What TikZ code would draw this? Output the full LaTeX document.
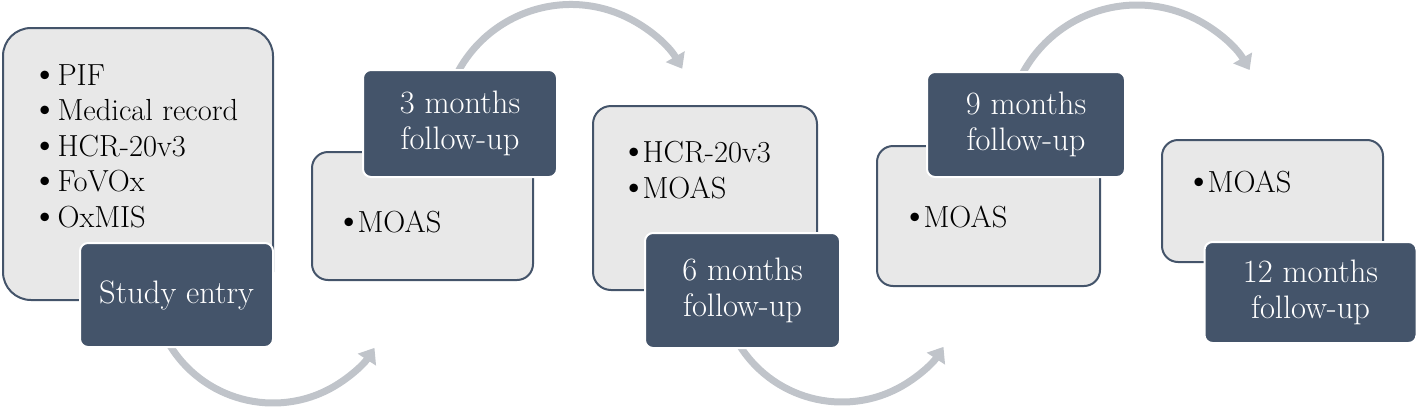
\documentclass[tikz,border=0pt]{standalone}
\usepackage{fontspec}
\usetikzlibrary{arrows.meta}
\definecolor{slate}{HTML}{44546A}
\definecolor{lightbg}{HTML}{E8E8E8}
\definecolor{arrowgray}{HTML}{C0C4CA}
\newcommand\bodyfont{\fontsize{30.5}{35.5}\selectfont}
\newcommand\tagfont{\fontsize{32.5}{36}\selectfont}
\newcommand\bul{{\fontsize{38}{35.5}\selectfont\textbullet}}
\tikzset{
  listbox/.style={draw=slate, fill=lightbg, line width=2pt, inner sep=0pt},
  tagbox/.style={draw=white, fill=slate, line width=2pt, rounded corners=8pt,
    text=white, align=center, font=\tagfont, inner sep=0pt},
  listtext/.style={align=left, anchor=west, inner sep=0pt, font=\bodyfont},
  flow/.style={draw=arrowgray, line width=7pt, -{Triangle[width=21pt,length=14pt]}}
}
\begin{document}
\begin{tikzpicture}[x=1pt,y=-1pt]
\useasboundingbox (0,0) rectangle (1418,410);
% connectors (behind boxes)
\coordinate (a1s) at (168.2,342.5);
\coordinate (a2s) at (454.5,78.7);
\coordinate (a3s) at (737.2,341.5);
\coordinate (a4s) at (1019.2,80.1);
\draw[flow] (a1s) arc[start angle=150, end angle=33, radius=121];
\draw[flow] (a2s) arc[start angle=205, end angle=330, radius=128.5];
\draw[flow] (a3s) arc[start angle=150, end angle=33, radius=121];
\draw[flow] (a4s) arc[start angle=205, end angle=330, radius=130];
% box 1
\node[listbox, rounded corners=28pt, minimum width=270pt, minimum height=272pt] (b1) at (138,164) {};
\node[listtext] (l1) at (31,146) {\bul\hspace{-1pt}PIF\\ \bul\hspace{-1pt}Medical record\\ \bul\hspace{-1pt}HCR-20v3\\ \bul\hspace{-1pt}FoVOx\\ \bul\hspace{-1pt}OxMIS};
\node[tagbox, minimum width=193pt, minimum height=104pt] (t1) at (176.5,295) {Study entry};
% box 2
\node[listbox, rounded corners=16pt, minimum width=221pt, minimum height=128pt] (b2) at (422.5,216) {};
\node[listtext] (l2) at (335,222) {\bul\hspace{-5pt}MOAS};
\node[tagbox, minimum width=194pt, minimum height=107pt] (t2) at (460,123.5) {3 months\\follow-up};
% box 3
\node[listbox, rounded corners=18pt, minimum width=224pt, minimum height=184pt] (b3) at (705,198) {};
\node[listtext] (l3) at (620,170) {\bul\hspace{-5pt}HCR-20v3\\ \bul\hspace{-5pt}MOAS};
\node[tagbox, minimum width=195pt, minimum height=115pt] (t3) at (742.5,290.5) {6 months\\follow-up};
% box 4
\node[listbox, rounded corners=16pt, minimum width=223pt, minimum height=140pt] (b4) at (988.5,216) {};
\node[listtext] (l4) at (901,217) {\bul\hspace{-5pt}MOAS};
\node[tagbox, minimum width=198pt, minimum height=105pt] (t4) at (1026,124.5) {9 months\\follow-up};
% box 5
\node[listbox, rounded corners=16pt, minimum width=221pt, minimum height=122pt] (b5) at (1272.5,201) {};
\node[listtext] (l5) at (1185,182) {\bul\hspace{-5pt}MOAS};
\node[tagbox, minimum width=212pt, minimum height=101pt] (t5) at (1310.5,292.5) {12 months\\follow-up};
\end{tikzpicture}
\end{document}
